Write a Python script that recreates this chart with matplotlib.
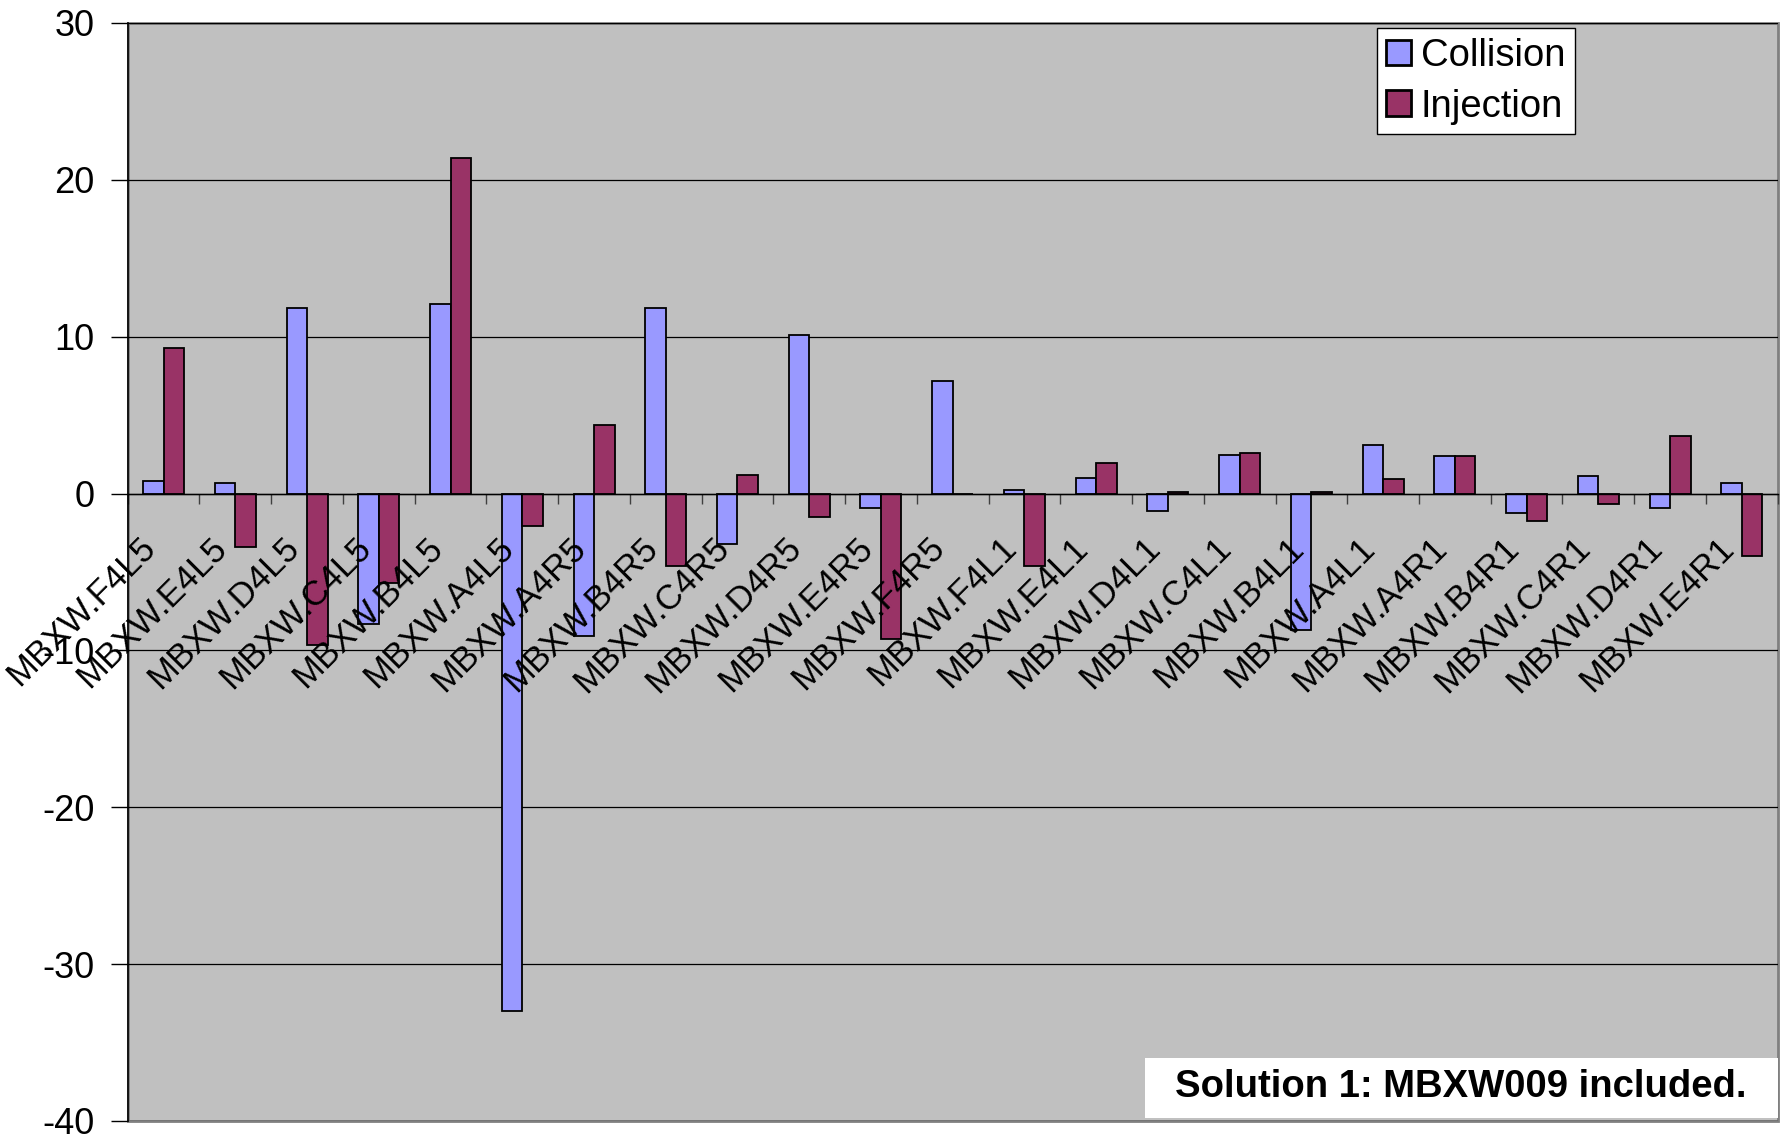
import matplotlib
matplotlib.use("Agg")
import matplotlib.pyplot as plt
import matplotlib.transforms as mtransforms
from matplotlib.patches import Rectangle
import numpy as np

plt.rcParams['font.family'] = ['Liberation Sans', 'DejaVu Sans']
plt.rcParams['axes.unicode_minus'] = False

magnets = ["MBXW.F4L5", "MBXW.E4L5", "MBXW.D4L5", "MBXW.C4L5", "MBXW.B4L5",
           "MBXW.A4L5", "MBXW.A4R5", "MBXW.B4R5", "MBXW.C4R5", "MBXW.D4R5",
           "MBXW.E4R5", "MBXW.F4R5", "MBXW.F4L1", "MBXW.E4L1", "MBXW.D4L1",
           "MBXW.C4L1", "MBXW.B4L1", "MBXW.A4L1", "MBXW.A4R1", "MBXW.B4R1",
           "MBXW.C4R1", "MBXW.D4R1", "MBXW.E4R1"]
collision = [0.8, 0.65, 11.8, -8.3, 12.1, -33.0, -9.1, 11.8, -3.2, 10.1,
             -0.94, 7.2, 0.2, 1.0, -1.08, 2.44, -8.7, 3.07, 2.41, -1.22,
             1.14, -0.94, 0.68]
injection = [9.3, -3.4, -9.66, -5.7, 21.4, -2.05, 4.35, -4.6, 1.2, -1.5,
             -9.3, -0.05, -4.6, 1.96, 0.1, 2.56, 0.1, 0.9, 2.41, -1.73,
             -0.65, 3.66, -3.98]
yticks = [-40, -30, -20, -10, 0, 10, 20, 30]

fig = plt.figure(figsize=(17.81, 11.39), dpi=100)
ax = fig.add_axes([127.7 / 1781, 18 / 1139, 1650 / 1781, 1098 / 1139])
ax.set_facecolor('#C0C0C0')
ax.patch.set_edgecolor('#808080')
ax.patch.set_linewidth(2)

x = np.arange(len(magnets))
w = 1 / 3.5
ax.bar(x - w / 2, collision, w, color='#9999FF', edgecolor='black', linewidth=1.3,
       label='Collision', zorder=3)
ax.bar(x + w / 2, injection, w, color='#993366', edgecolor='black', linewidth=1.3,
       label='Injection', zorder=3)

ax.set_xlim(-0.5, len(magnets) - 0.5)
ax.set_ylim(-40, 30)
ax.set_yticks(yticks)
ax.yaxis.grid(True, color='black', linewidth=0.9)
ax.set_axisbelow(True)
ax.tick_params(axis='y', labelsize=26, length=12, width=1, pad=12, direction='out')

# category axis sits at zero
ax.spines['bottom'].set_position(('data', 0))
ax.spines['bottom'].set_color('black')
ax.spines['bottom'].set_linewidth(1)
ax.spines['bottom'].set_zorder(4)
ax.spines['left'].set_color('black')
ax.spines['left'].set_linewidth(1.2)
ax.spines['top'].set_visible(False)
ax.spines['right'].set_visible(False)
ax.set_xticks(np.arange(len(magnets) + 1) - 0.5)
ax.set_xticklabels([])
ax.tick_params(axis='x', length=7, width=1, direction='out', color='#404040')

off = mtransforms.offset_copy(ax.transData, fig=fig, x=-18, y=-27, units='points')
for i, name in enumerate(magnets):
    ax.text(i, 0, name, transform=off, rotation=45, rotation_mode='anchor',
            ha='right', va='top', fontsize=25, zorder=5)

leg = ax.legend(loc='upper left', bbox_to_anchor=(0.757, 0.995), fontsize=27.5,
                frameon=True, fancybox=False, edgecolor='black', framealpha=1,
                handlelength=0.65, handleheight=0.65, handletextpad=0.25,
                borderpad=0.25, labelspacing=0.38, borderaxespad=0)
leg.get_frame().set_linewidth(1)
for h in leg.legend_handles:
    h.set_linewidth(2)

ax.add_patch(Rectangle((0.6165, 0.003), 0.3835, 0.0545, transform=ax.transAxes,
                       facecolor='white', edgecolor='none', zorder=6))
ax.text(0.808, 0.031, "Solution 1: MBXW009 included.", transform=ax.transAxes,
        ha='center', va='center', fontsize=27.5, fontweight='bold', zorder=7)

fig.savefig("out.png", dpi=100)
